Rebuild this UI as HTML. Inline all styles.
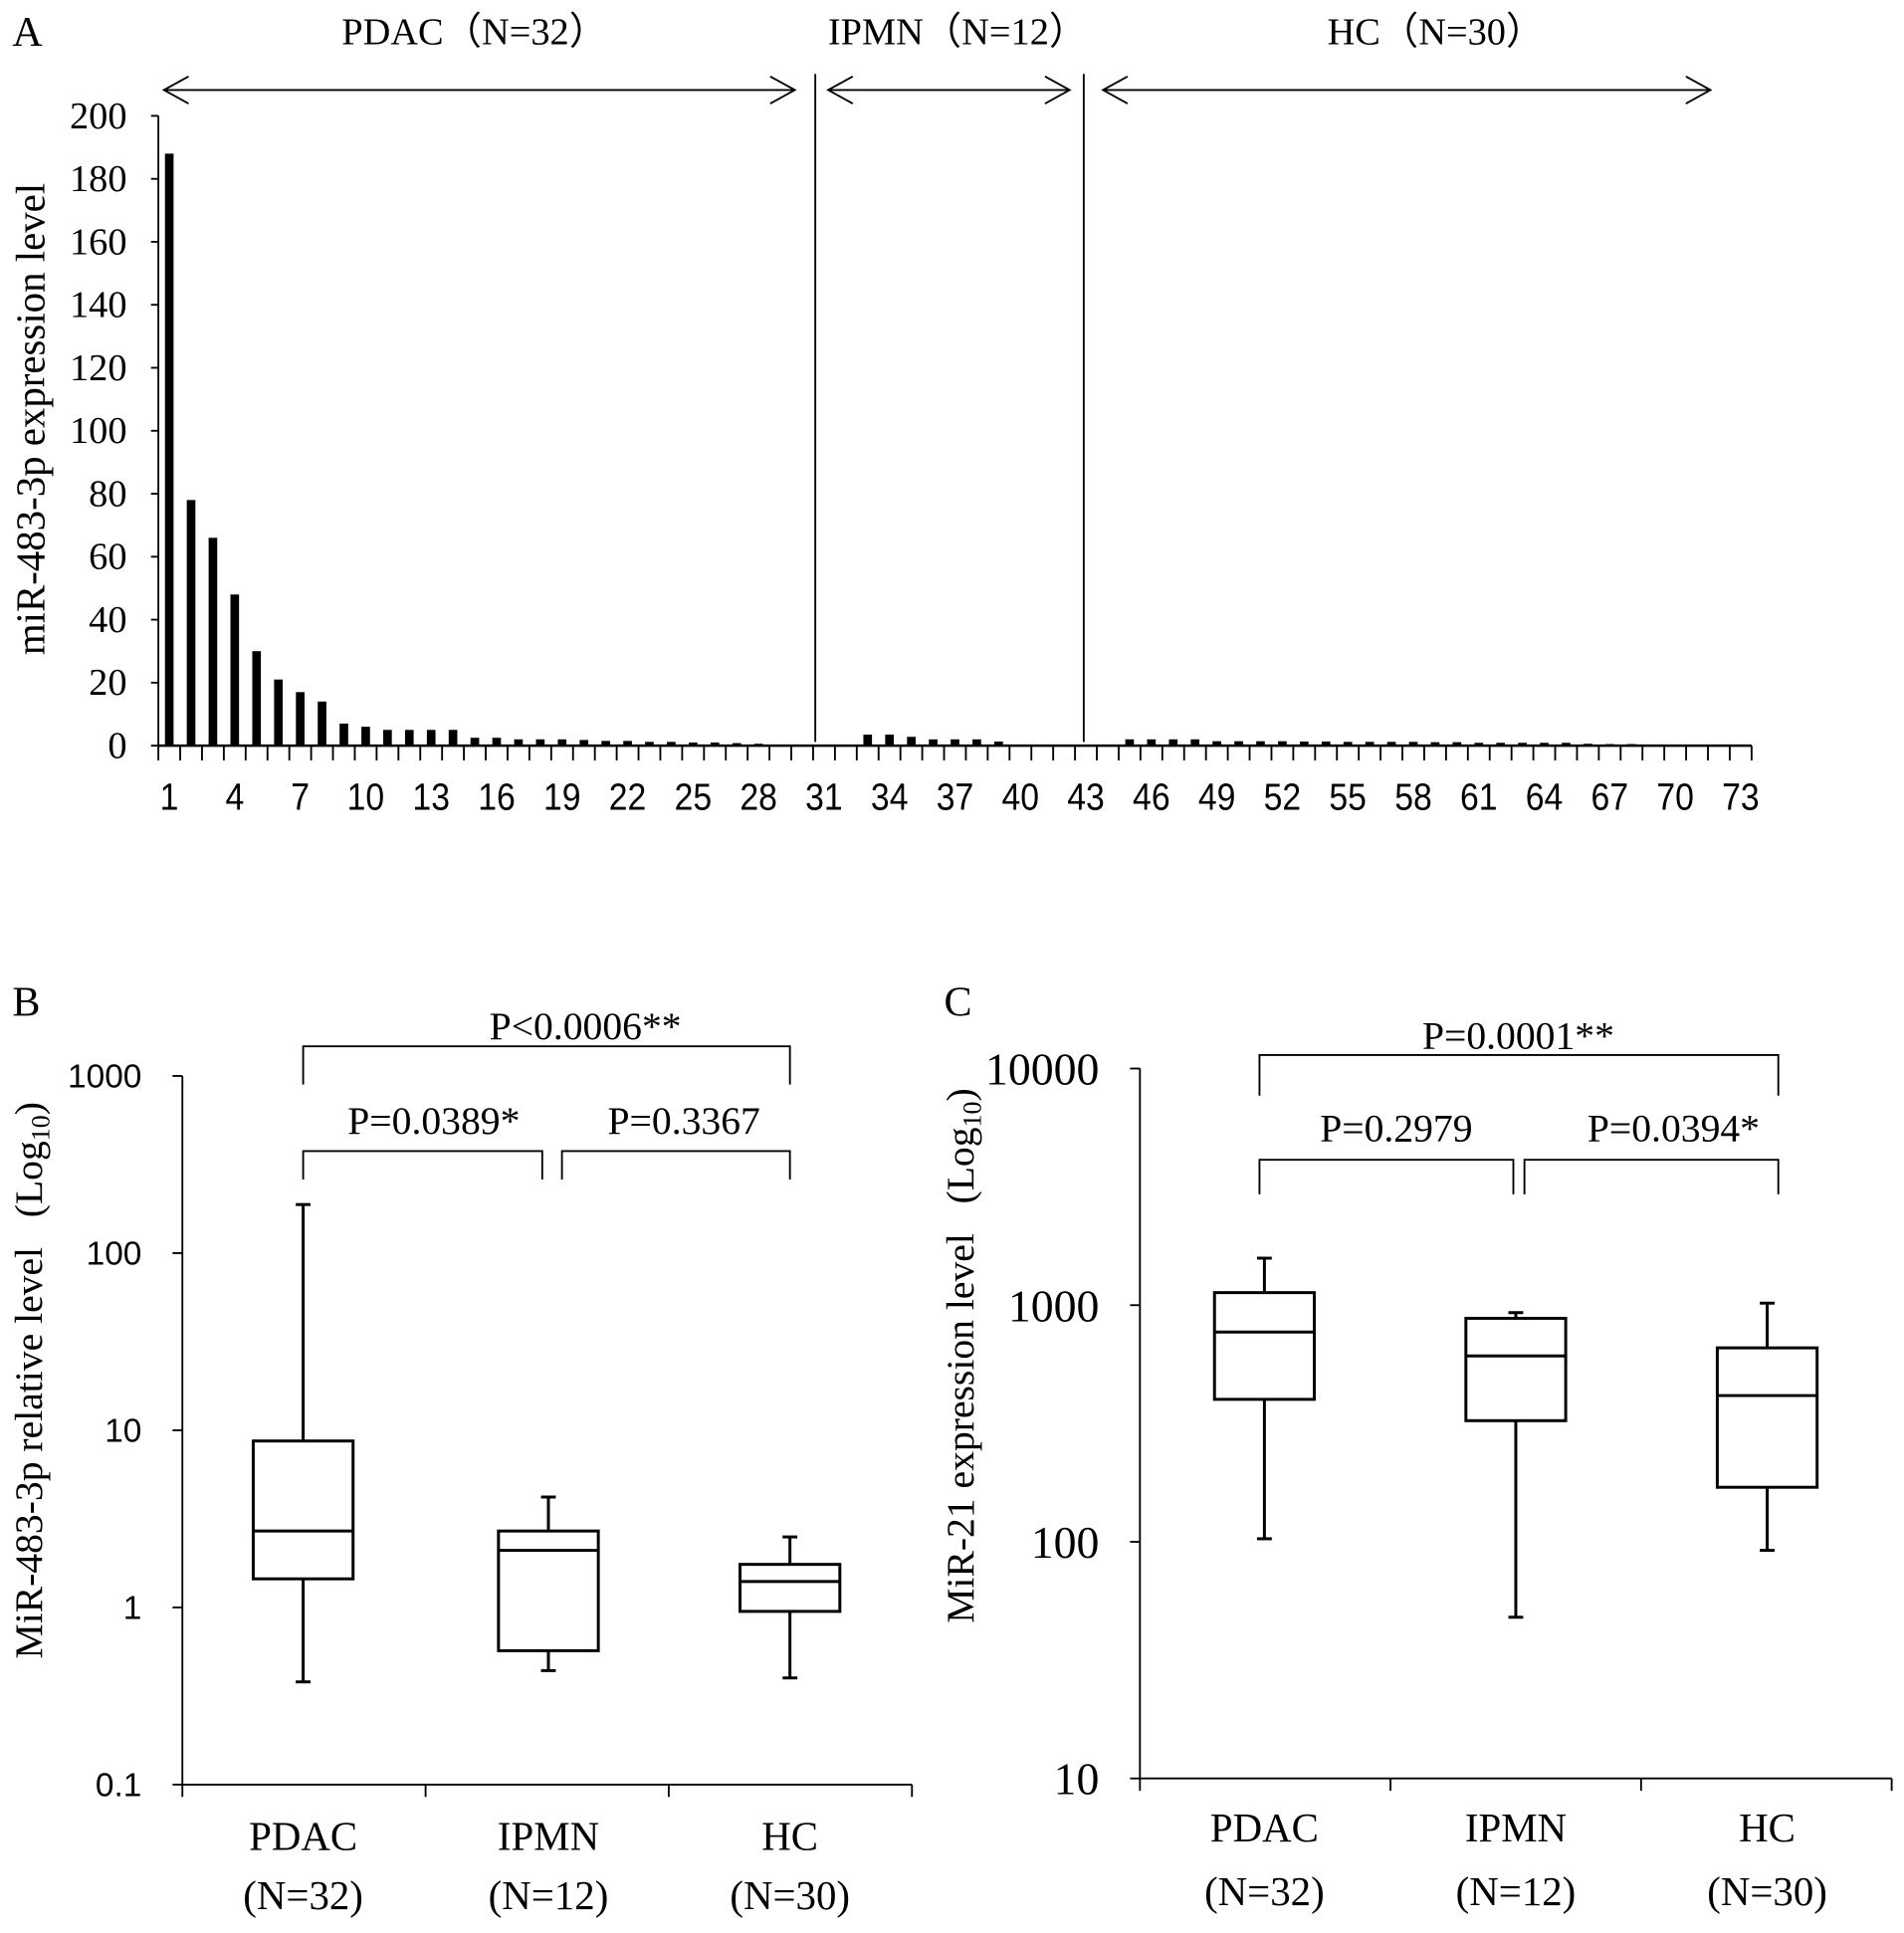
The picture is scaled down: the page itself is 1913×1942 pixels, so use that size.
<!DOCTYPE html>
<html><head><meta charset="utf-8">
<style>
html,body{margin:0;padding:0;background:#fff;}
svg{display:block;}
.serif{font-family:"Liberation Serif",serif;}
.sans{font-family:"Liberation Sans",sans-serif;}
</style></head>
<body>
<svg id="fig" width="1913" height="1942" viewBox="0 0 1545 1568.4" xmlns="http://www.w3.org/2000/svg">
<g id="panelA"></g>
<g id="panelB"></g>
<g id="panelC"></g>
</svg>
<script>
// ---- Panel A data ----
const aValues = [188,78,66,48,30,21,17,14,7,6,5,5,5,5,2.5,2.5,2,2,2,1.8,1.5,1.5,1.2,1.2,1,1,0.8,0.6,0.3,0.3,0,0,
 3.5,3.5,2.8,2,2,2,1.3,0,0,0,0,0,
 2,2,2,2,1.4,1.4,1.4,1.4,1.3,1.3,1.2,1.2,1.2,1.2,1.1,1.1,0.9,0.9,0.9,0.9,0.9,0.6,0.5,0.5,0,0,0,0,0];
const aYTicks = [0,20,40,60,80,100,120,140,160,180,200];
const aXLabels = [1,4,7,10,13,16,19,22,25,28,31,34,37,40,43,46,49,52,55,58,61,64,67,70,73];
const aGroups = ["PDAC（N=32）","IPMN（N=12）","HC（N=30）"];
// ---- Panel B data ----
const bCats = ["PDAC","IPMN","HC"];
const bN = ["(N=32)","(N=12)","(N=30)"];
const bMax = [188,4.2,2.5];
const bQ3 = [8.7,2.7,1.75];
const bMed = [2.7,2.1,1.4];
const bQ1 = [1.45,0.57,0.95];
const bMin = [0.38,0.44,0.4];
const bTicks = [0.1,1,10,100,1000];
const bPvals = ["P<0.0006**","P=0.0389*","P=0.3367"];
// ---- Panel C data ----
const cMax = [1580,930,1020];
const cQ3 = [1130,880,660];
const cMed = [770,610,415];
const cQ1 = [400,325,170];
const cMin = [103,48,92];
const cTicks = [10,100,1000,10000];
const cPvals = ["P=0.0001**","P=0.2979","P=0.0394*"];

const NS="http://www.w3.org/2000/svg";
function mk(parent,tag,attrs,text){const e=document.createElementNS(NS,tag);for(const k in attrs)e.setAttribute(k,attrs[k]);if(text!==undefined)e.textContent=text;parent.appendChild(e);return e;}
function line(p,x1,y1,x2,y2,w){return mk(p,'line',{x1,y1,x2,y2,stroke:'#000','stroke-width':w||1.5});}

// ===== Panel A =====
(function(){
 const g=document.getElementById('panelA');
 const x0=128.5, step=17.71, y0=605, yTop=94;
 const x=c=>x0+(c-0.5)*step;
 const y=v=>y0-(v/200)*(y0-yTop);
 let t=mk(g,'text',{x:10,y:37,'font-size':34,class:'serif'},'A');
 
 
 let ax=line(g,x0,yTop,x0,y0);
 
 ax=line(g,x0,y0,x0+73*step,y0,2);
 
 aYTicks.forEach(v=>{
  line(g,x0-6,y(v),x0,y(v));
  const tt=mk(g,'text',{x:103,y:y(v)+10,'font-size':31,'text-anchor':'end',class:'serif'},String(v));
  
  
 });
 for(let i=0;i<=73;i++) line(g,x0+i*step,y0,x0+i*step,y0+12,1.5);
 aXLabels.forEach(c=>{
  const tt=mk(g,'text',{x:x(c),y:657,'font-size':31,'text-anchor':'middle',class:'sans',transform:`translate(${x(c)},0) scale(0.88,1) translate(${-x(c)},0)`},String(c));
  
  
 });
 aValues.forEach((v,i)=>{
  if(v<=0)return;
  const r=mk(g,'rect',{x:x(i+1)-3.5,y:y(v),width:7,height:y0-y(v),fill:'#000'});
  
  
 });
 [30.6,42.9].forEach(c=>{const s=line(g,x(c),60,x(c),y0-3,1.5);});
 const arr=[[133,645,385],[672,868,777],[895,1388,1165]];
 arr.forEach((a,i)=>{
  line(g,a[0],73,a[1],73,1.5);
  mk(g,'polyline',{points:`${a[0]+20},62 ${a[0]},73 ${a[0]+20},84`,fill:'none',stroke:'#000','stroke-width':1.5});
  mk(g,'polyline',{points:`${a[1]-20},62 ${a[1]},73 ${a[1]-20},84`,fill:'none',stroke:'#000','stroke-width':1.5});
  const tt=mk(g,'text',{x:a[2],y:36,'font-size':31,'text-anchor':'middle',class:'serif'},aGroups[i]);
  
  
 });
 const yt=mk(g,'text',{x:0,y:0,'font-size':33,'text-anchor':'middle',class:'serif',transform:'translate(36,340) rotate(-90)'},'miR-483-3p expression level');
 
 
})();

function boxPanel(g,cfg){
 const {ax,yTopV,yTop,yBot,botV,xEnd,ticks,centers,max,q3,med,q1,min,pv,brk,tickClass,tickSize,tickX,title,titleY,letter,letterX,catY,nY}=cfg;
 const y=v=>yBot-(Math.log10(v)-Math.log10(botV))/(Math.log10(yTopV)-Math.log10(botV))*(yBot-yTop);
 let t=mk(g,'text',{x:letterX,y:824,'font-size':34,class:'serif'},letter);
 
 let a=line(g,ax,y(yTopV),ax,yBot,1.5);
 a=line(g,ax,yBot,xEnd,yBot,1.5);
 ticks.forEach(v=>{line(g,ax-8,y(v),ax,y(v));
  const tt=mk(g,'text',{x:tickX,y:y(v)+tickSize*0.35,'font-size':tickSize,'text-anchor':'end',class:tickClass},String(v));
  });
 const seg=(xEnd-ax)/3;
 for(let i=0;i<=3;i++) line(g,ax+i*seg,yBot,ax+i*seg,yBot+10,1.5);
 centers.forEach((cx,i)=>{
  const bw=81;
  const grp=mk(g,'g',{});
  
  
  line(grp,cx,y(max[i]),cx,y(q3[i]),2.4);
  line(grp,cx-6,y(max[i]),cx+6,y(max[i]),2.4);
  line(grp,cx,y(q1[i]),cx,y(min[i]),2.4);
  line(grp,cx-6,y(min[i]),cx+6,y(min[i]),2.4);
  mk(grp,'rect',{x:cx-bw/2,y:y(q3[i]),width:bw,height:y(q1[i])-y(q3[i]),fill:'none',stroke:'#000','stroke-width':2.4});
  line(grp,cx-bw/2,y(med[i]),cx+bw/2,y(med[i]),2.4);
  let c=mk(g,'text',{x:cx,y:catY,'font-size':33,'text-anchor':'middle',class:'serif'},bCats[i]);
  
  c=mk(g,'text',{x:cx,y:nY,'font-size':33,'text-anchor':'middle',class:'serif'},bN[i]);
  
 });
 brk.forEach((b,i)=>{
  const [x1,x2,yb,yd,lx,ly]=b;
  mk(g,'polyline',{points:`${x1},${yd} ${x1},${yb} ${x2},${yb} ${x2},${yd}`,fill:'none',stroke:'#000','stroke-width':1.5});
  const tt=mk(g,'text',{x:lx,y:ly,'font-size':32,'text-anchor':'middle',class:'serif'},pv[i]);
  
 });
 const yt=mk(g,'text',{x:0,y:0,'font-size':32,'text-anchor':'middle',class:'serif',transform:`translate(${letterX+24},${titleY}) rotate(-90)`});
 
 yt.appendChild(document.createTextNode(title+'\u00a0\u00a0\u00a0(Log'));
 mk(yt,'tspan',{'font-size':21,dy:6},'10');
 mk(yt,'tspan',{dy:-6},')');
}

boxPanel(document.getElementById('panelB'),{
 ax:148,yTopV:1000,yTop:873,yBot:1448,botV:0.1,xEnd:740,ticks:bTicks,centers:[246,445,641],
 max:bMax,q3:bQ3,med:bMed,q1:bQ1,min:bMin,pv:bPvals,
 brk:[[246,641,849,880,475,843],[246,440,934,957,352,920],[456,641,934,957,555,920]],
 tickClass:'sans',tickSize:27,tickX:115,title:'MiR-483-3p relative level',titleY:1120,letter:'B',letterX:10,catY:1501,nY:1549});
boxPanel(document.getElementById('panelC'),{
 ax:925,yTopV:10000,yTop:867,yBot:1443,botV:10,xEnd:1535,ticks:cTicks,centers:[1026,1230,1434],
 max:cMax,q3:cQ3,med:cMed,q1:cQ1,min:cMin,pv:cPvals,
 brk:[[1022,1443,856,889,1232,851],[1022,1228,941,969,1133,926],[1237,1443,941,969,1358,926]],
 tickClass:'serif',tickSize:37,tickX:892,title:'MiR-21 expression level',titleY:1100,letter:'C',letterX:766,catY:1494,nY:1546});
</script>
</body></html>
